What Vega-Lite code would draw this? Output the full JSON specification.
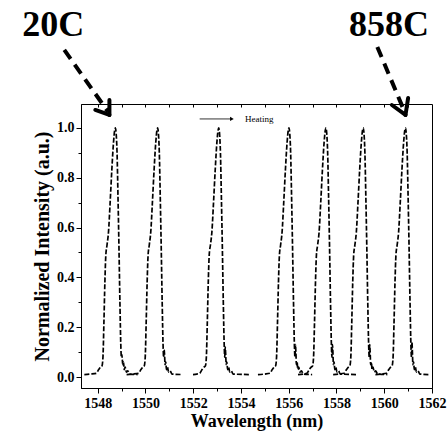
{
  "$schema": "https://vega.github.io/schema/vega-lite/v6.json",
  "width": 351,
  "height": 284,
  "autosize": {"type": "none"},
  "padding": {"left": 81, "top": 104, "right": 15, "bottom": 47},
  "background": "white",
  "config": {
    "font": "Liberation Serif",
    "view": {"stroke": "black", "strokeWidth": 1}
  },
  "datasets": {
    "spectra": [
      {"s":"a","w":1547.44,"v":0.01},{"s":"a","w":1547.7,"v":0.012},{"s":"a","w":1547.94,"v":0.015},{"s":"a","w":1548.04,"v":0.03},{"s":"a","w":1548.12,"v":0.04},{"s":"a","w":1548.18,"v":0.045},{"s":"a","w":1548.22,"v":0.08},{"s":"a","w":1548.26,"v":0.22},{"s":"a","w":1548.30,"v":0.38},{"s":"a","w":1548.34,"v":0.49},{"s":"a","w":1548.39,"v":0.53},{"s":"a","w":1548.45,"v":0.58},{"s":"a","w":1548.52,"v":0.70},{"s":"a","w":1548.59,"v":0.83},{"s":"a","w":1548.66,"v":0.94},{"s":"a","w":1548.71,"v":0.99},{"s":"a","w":1548.74,"v":1.0},{"s":"a","w":1548.77,"v":0.98},{"s":"a","w":1548.81,"v":0.90},{"s":"a","w":1548.85,"v":0.72},{"s":"a","w":1548.89,"v":0.52},{"s":"a","w":1548.93,"v":0.30},{"s":"a","w":1548.97,"v":0.12},{"s":"a","w":1548.99,"v":0.08},{"s":"a","w":1549.01,"v":0.09},{"s":"a","w":1549.03,"v":0.07},{"s":"a","w":1549.05,"v":0.05},{"s":"a","w":1549.08,"v":0.06},{"s":"a","w":1549.11,"v":0.03},{"s":"a","w":1549.15,"v":0.04},{"s":"a","w":1549.20,"v":0.02},{"s":"a","w":1549.26,"v":0.025},{"s":"a","w":1549.34,"v":0.012},{"s":"a","w":1549.67,"v":0.01},
      {"s":"b","w":1549.21,"v":0.01},{"s":"b","w":1549.45,"v":0.012},{"s":"b","w":1549.71,"v":0.015},{"s":"b","w":1549.81,"v":0.03},{"s":"b","w":1549.89,"v":0.04},{"s":"b","w":1549.95,"v":0.045},{"s":"b","w":1549.99,"v":0.08},{"s":"b","w":1550.03,"v":0.22},{"s":"b","w":1550.07,"v":0.38},{"s":"b","w":1550.11,"v":0.49},{"s":"b","w":1550.16,"v":0.53},{"s":"b","w":1550.22,"v":0.58},{"s":"b","w":1550.29,"v":0.70},{"s":"b","w":1550.36,"v":0.83},{"s":"b","w":1550.43,"v":0.94},{"s":"b","w":1550.48,"v":0.99},{"s":"b","w":1550.51,"v":1.0},{"s":"b","w":1550.54,"v":0.98},{"s":"b","w":1550.58,"v":0.90},{"s":"b","w":1550.62,"v":0.72},{"s":"b","w":1550.66,"v":0.52},{"s":"b","w":1550.70,"v":0.30},{"s":"b","w":1550.74,"v":0.12},{"s":"b","w":1550.76,"v":0.08},{"s":"b","w":1550.78,"v":0.11},{"s":"b","w":1550.80,"v":0.09},{"s":"b","w":1550.82,"v":0.05},{"s":"b","w":1550.85,"v":0.06},{"s":"b","w":1550.88,"v":0.03},{"s":"b","w":1550.92,"v":0.04},{"s":"b","w":1550.97,"v":0.02},{"s":"b","w":1551.03,"v":0.025},{"s":"b","w":1551.11,"v":0.012},{"s":"b","w":1551.52,"v":0.01},
      {"s":"c","w":1551.99,"v":0.01},{"s":"c","w":1552.15,"v":0.012},{"s":"c","w":1552.27,"v":0.015},{"s":"c","w":1552.37,"v":0.03},{"s":"c","w":1552.45,"v":0.04},{"s":"c","w":1552.51,"v":0.045},{"s":"c","w":1552.55,"v":0.08},{"s":"c","w":1552.59,"v":0.22},{"s":"c","w":1552.63,"v":0.38},{"s":"c","w":1552.67,"v":0.49},{"s":"c","w":1552.72,"v":0.53},{"s":"c","w":1552.78,"v":0.58},{"s":"c","w":1552.85,"v":0.70},{"s":"c","w":1552.92,"v":0.83},{"s":"c","w":1552.99,"v":0.94},{"s":"c","w":1553.04,"v":0.99},{"s":"c","w":1553.07,"v":1.0},{"s":"c","w":1553.10,"v":0.98},{"s":"c","w":1553.14,"v":0.90},{"s":"c","w":1553.18,"v":0.72},{"s":"c","w":1553.22,"v":0.52},{"s":"c","w":1553.26,"v":0.30},{"s":"c","w":1553.30,"v":0.12},{"s":"c","w":1553.32,"v":0.08},{"s":"c","w":1553.34,"v":0.12},{"s":"c","w":1553.36,"v":0.09},{"s":"c","w":1553.38,"v":0.05},{"s":"c","w":1553.41,"v":0.06},{"s":"c","w":1553.44,"v":0.03},{"s":"c","w":1553.48,"v":0.04},{"s":"c","w":1553.53,"v":0.02},{"s":"c","w":1553.59,"v":0.025},{"s":"c","w":1553.67,"v":0.012},{"s":"c","w":1554.37,"v":0.01},
      {"s":"d","w":1554.71,"v":0.01},{"s":"d","w":1555.0,"v":0.012},{"s":"d","w":1555.21,"v":0.015},{"s":"d","w":1555.31,"v":0.03},{"s":"d","w":1555.39,"v":0.04},{"s":"d","w":1555.45,"v":0.045},{"s":"d","w":1555.49,"v":0.08},{"s":"d","w":1555.53,"v":0.22},{"s":"d","w":1555.57,"v":0.38},{"s":"d","w":1555.61,"v":0.49},{"s":"d","w":1555.66,"v":0.53},{"s":"d","w":1555.72,"v":0.58},{"s":"d","w":1555.79,"v":0.70},{"s":"d","w":1555.86,"v":0.83},{"s":"d","w":1555.93,"v":0.94},{"s":"d","w":1555.98,"v":0.99},{"s":"d","w":1556.01,"v":1.0},{"s":"d","w":1556.04,"v":0.98},{"s":"d","w":1556.08,"v":0.90},{"s":"d","w":1556.12,"v":0.72},{"s":"d","w":1556.16,"v":0.52},{"s":"d","w":1556.20,"v":0.30},{"s":"d","w":1556.24,"v":0.12},{"s":"d","w":1556.26,"v":0.08},{"s":"d","w":1556.28,"v":0.13},{"s":"d","w":1556.30,"v":0.10},{"s":"d","w":1556.32,"v":0.05},{"s":"d","w":1556.35,"v":0.06},{"s":"d","w":1556.38,"v":0.03},{"s":"d","w":1556.42,"v":0.04},{"s":"d","w":1556.47,"v":0.02},{"s":"d","w":1556.53,"v":0.025},{"s":"d","w":1556.61,"v":0.012},{"s":"d","w":1556.98,"v":0.01},
      {"s":"e","w":1556.39,"v":0.01},{"s":"e","w":1556.6,"v":0.012},{"s":"e","w":1556.76,"v":0.015},{"s":"e","w":1556.86,"v":0.03},{"s":"e","w":1556.94,"v":0.04},{"s":"e","w":1557.00,"v":0.045},{"s":"e","w":1557.04,"v":0.08},{"s":"e","w":1557.08,"v":0.22},{"s":"e","w":1557.12,"v":0.38},{"s":"e","w":1557.16,"v":0.49},{"s":"e","w":1557.21,"v":0.53},{"s":"e","w":1557.27,"v":0.58},{"s":"e","w":1557.34,"v":0.70},{"s":"e","w":1557.41,"v":0.83},{"s":"e","w":1557.48,"v":0.94},{"s":"e","w":1557.53,"v":0.99},{"s":"e","w":1557.56,"v":1.0},{"s":"e","w":1557.59,"v":0.98},{"s":"e","w":1557.63,"v":0.90},{"s":"e","w":1557.67,"v":0.72},{"s":"e","w":1557.71,"v":0.52},{"s":"e","w":1557.75,"v":0.30},{"s":"e","w":1557.79,"v":0.12},{"s":"e","w":1557.81,"v":0.08},{"s":"e","w":1557.83,"v":0.13},{"s":"e","w":1557.85,"v":0.10},{"s":"e","w":1557.87,"v":0.05},{"s":"e","w":1557.90,"v":0.06},{"s":"e","w":1557.93,"v":0.03},{"s":"e","w":1557.97,"v":0.04},{"s":"e","w":1558.02,"v":0.02},{"s":"e","w":1558.08,"v":0.025},{"s":"e","w":1558.16,"v":0.012},{"s":"e","w":1558.87,"v":0.01},
      {"s":"f","w":1557.86,"v":0.01},{"s":"f","w":1558.1,"v":0.012},{"s":"f","w":1558.32,"v":0.015},{"s":"f","w":1558.42,"v":0.03},{"s":"f","w":1558.50,"v":0.04},{"s":"f","w":1558.56,"v":0.045},{"s":"f","w":1558.60,"v":0.08},{"s":"f","w":1558.64,"v":0.22},{"s":"f","w":1558.68,"v":0.38},{"s":"f","w":1558.72,"v":0.49},{"s":"f","w":1558.77,"v":0.53},{"s":"f","w":1558.83,"v":0.58},{"s":"f","w":1558.90,"v":0.70},{"s":"f","w":1558.97,"v":0.83},{"s":"f","w":1559.04,"v":0.94},{"s":"f","w":1559.09,"v":0.99},{"s":"f","w":1559.12,"v":1.0},{"s":"f","w":1559.15,"v":0.98},{"s":"f","w":1559.19,"v":0.90},{"s":"f","w":1559.23,"v":0.72},{"s":"f","w":1559.27,"v":0.52},{"s":"f","w":1559.31,"v":0.30},{"s":"f","w":1559.35,"v":0.12},{"s":"f","w":1559.37,"v":0.08},{"s":"f","w":1559.39,"v":0.13},{"s":"f","w":1559.41,"v":0.10},{"s":"f","w":1559.43,"v":0.05},{"s":"f","w":1559.46,"v":0.06},{"s":"f","w":1559.49,"v":0.03},{"s":"f","w":1559.53,"v":0.04},{"s":"f","w":1559.58,"v":0.02},{"s":"f","w":1559.64,"v":0.025},{"s":"f","w":1559.72,"v":0.012},{"s":"f","w":1560.13,"v":0.01},
      {"s":"g","w":1559.63,"v":0.01},{"s":"g","w":1559.9,"v":0.012},{"s":"g","w":1560.09,"v":0.015},{"s":"g","w":1560.19,"v":0.03},{"s":"g","w":1560.27,"v":0.04},{"s":"g","w":1560.33,"v":0.045},{"s":"g","w":1560.37,"v":0.08},{"s":"g","w":1560.41,"v":0.22},{"s":"g","w":1560.45,"v":0.38},{"s":"g","w":1560.49,"v":0.49},{"s":"g","w":1560.54,"v":0.53},{"s":"g","w":1560.60,"v":0.58},{"s":"g","w":1560.67,"v":0.70},{"s":"g","w":1560.74,"v":0.83},{"s":"g","w":1560.81,"v":0.94},{"s":"g","w":1560.86,"v":0.99},{"s":"g","w":1560.89,"v":1.0},{"s":"g","w":1560.92,"v":0.98},{"s":"g","w":1560.96,"v":0.90},{"s":"g","w":1561.00,"v":0.72},{"s":"g","w":1561.04,"v":0.52},{"s":"g","w":1561.08,"v":0.30},{"s":"g","w":1561.12,"v":0.12},{"s":"g","w":1561.14,"v":0.08},{"s":"g","w":1561.16,"v":0.14},{"s":"g","w":1561.18,"v":0.10},{"s":"g","w":1561.20,"v":0.05},{"s":"g","w":1561.23,"v":0.06},{"s":"g","w":1561.26,"v":0.03},{"s":"g","w":1561.30,"v":0.04},{"s":"g","w":1561.35,"v":0.02},{"s":"g","w":1561.41,"v":0.025},{"s":"g","w":1561.49,"v":0.012},{"s":"g","w":1561.85,"v":0.01}
    ],
    "shafts": [
      {"w":1546.60,"v":1.313,"w2":1548.43,"v2":1.065},
      {"w":1559.71,"v":1.325,"w2":1560.85,"v2":1.065}
    ],
    "heads": [
      {"w":1548.49,"v":1.052,"w2":1548.49,"v2":1.112},
      {"w":1548.49,"v":1.052,"w2":1547.90,"v2":1.072},
      {"w":1560.89,"v":1.052,"w2":1561.0,"v2":1.120},
      {"w":1560.89,"v":1.052,"w2":1560.32,"v2":1.092}
    ],
    "labels": [
      {"w":1546.14,"v":1.369,"t":"20C"},
      {"w":1560.2,"v":1.369,"t":"858C"}
    ],
    "legend": [
      {"w":1552.27,"w2":1553.62,"v":1.036,"t":"Heating","tw":1554.17}
    ]
  },
  "resolve": {"axis": {"x": "independent", "y": "independent"}},
  "layer": [
    {
      "data": {"name": "spectra"},
      "mark": {"type": "line", "color": "black", "strokeWidth": 1.7, "strokeDash": [5, 2], "interpolate": "monotone"},
      "encoding": {
        "x": {
          "field": "w", "type": "quantitative",
          "scale": {"domain": [1547.3, 1562], "nice": false, "zero": false},
          "axis": {
            "orient": "bottom",
            "values": [1548,1549,1550,1551,1552,1553,1554,1555,1556,1557,1558,1559,1560,1561,1562],
            "format": "d",
            "labelExpr": "datum.value % 2 == 0 ? datum.label : ''",
            "tickSize": {"condition": {"test": "datum.value % 2 == 0", "value": 5}, "value": 3},
            "tickColor": "black", "domainColor": "black", "grid": false,
            "labelFont": "Liberation Serif", "labelFontWeight": "bold", "labelFontSize": 14, "labelColor": "black",
            "labelPadding": 3, "labelFlush": false, "labelOverlap": false,
            "title": "Wavelength (nm)", "titleFont": "Liberation Serif", "titleFontWeight": "bold", "titleFontSize": 18, "titleColor": "black", "titlePadding": 2
          }
        },
        "y": {
          "field": "v", "type": "quantitative",
          "scale": {"domain": [-0.044, 1.096], "nice": false, "zero": false},
          "axis": null
        },
        "detail": {"field": "s"}
      }
    },
    {
      "data": {"name": "legend"},
      "mark": {"type": "rule", "color": "black", "strokeWidth": 0.8},
      "encoding": {
        "x": {
          "field": "w", "type": "quantitative",
          "scale": {"domain": [1547.3, 1562], "nice": false, "zero": false},
          "axis": {
            "orient": "top",
            "values": [1548,1549,1550,1551,1552,1553,1554,1555,1556,1557,1558,1559,1560,1561],
            "labels": false, "title": null, "domain": false, "grid": false,
            "tickSize": -3, "tickColor": "black"
          }
        },
        "x2": {"field": "w2"},
        "y": {
          "field": "v", "type": "quantitative",
          "scale": {"domain": [-0.044, 1.096], "nice": false, "zero": false},
          "axis": {
            "orient": "left",
            "values": [0,0.1,0.2,0.3,0.4,0.5,0.6,0.7,0.8,0.9,1.0],
            "format": ".1f",
            "labelExpr": "round(datum.value*10) % 2 == 0 ? datum.label : ''",
            "tickSize": {"condition": {"test": "round(datum.value*10) % 2 == 0", "value": 5}, "value": 3},
            "tickColor": "black", "domainColor": "black", "grid": false,
            "labelFont": "Liberation Serif", "labelFontWeight": "bold", "labelFontSize": 14, "labelColor": "black",
            "labelPadding": 2, "labelFlush": false, "labelOverlap": false,
            "title": "Normalized Intensity (a.u.)", "titleFont": "Liberation Serif", "titleFontWeight": "bold", "titleFontSize": 20, "titleColor": "black", "titlePadding": 4
          }
        }
      }
    },
    {
      "data": {"name": "legend"},
      "mark": {"type": "point", "shape": "triangle-right", "filled": true, "color": "black", "size": 18, "opacity": 1},
      "encoding": {
        "x": {"field": "w2", "type": "quantitative", "scale": {"domain": [1547.3, 1562], "nice": false, "zero": false}, "axis": null},
        "y": {"field": "v", "type": "quantitative", "scale": {"domain": [-0.044, 1.096], "nice": false, "zero": false}, "axis": null}
      }
    },
    {
      "data": {"name": "legend"},
      "mark": {"type": "text", "align": "left", "baseline": "middle", "font": "Liberation Serif", "fontSize": 9, "color": "black"},
      "encoding": {
        "x": {"field": "tw", "type": "quantitative", "scale": {"domain": [1547.3, 1562], "nice": false, "zero": false}, "axis": null},
        "y": {"field": "v", "type": "quantitative", "scale": {"domain": [-0.044, 1.096], "nice": false, "zero": false}, "axis": null},
        "text": {"field": "t"}
      }
    },
    {
      "data": {"name": "shafts"},
      "mark": {"type": "rule", "color": "black", "strokeWidth": 4, "strokeDash": [11, 7]},
      "encoding": {
        "x": {"field": "w", "type": "quantitative", "scale": {"domain": [1547.3, 1562], "nice": false, "zero": false}, "axis": null},
        "y": {"field": "v", "type": "quantitative", "scale": {"domain": [-0.044, 1.096], "nice": false, "zero": false}, "axis": null},
        "x2": {"field": "w2"},
        "y2": {"field": "v2"}
      }
    },
    {
      "data": {"name": "heads"},
      "mark": {"type": "rule", "color": "black", "strokeWidth": 4, "strokeCap": "round"},
      "encoding": {
        "x": {"field": "w", "type": "quantitative", "scale": {"domain": [1547.3, 1562], "nice": false, "zero": false}, "axis": null},
        "y": {"field": "v", "type": "quantitative", "scale": {"domain": [-0.044, 1.096], "nice": false, "zero": false}, "axis": null},
        "x2": {"field": "w2"},
        "y2": {"field": "v2"}
      }
    },
    {
      "data": {"name": "labels"},
      "mark": {"type": "text", "align": "center", "baseline": "alphabetic", "font": "Liberation Serif", "fontWeight": "bold", "fontSize": 36, "color": "black"},
      "encoding": {
        "x": {"field": "w", "type": "quantitative", "scale": {"domain": [1547.3, 1562], "nice": false, "zero": false}, "axis": null},
        "y": {"field": "v", "type": "quantitative", "scale": {"domain": [-0.044, 1.096], "nice": false, "zero": false}, "axis": null},
        "text": {"field": "t"}
      }
    }
  ]
}
